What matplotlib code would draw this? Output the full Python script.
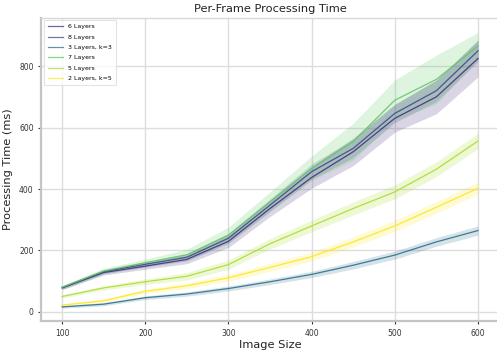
import matplotlib
matplotlib.use("Agg")
import matplotlib.pyplot as plt
import numpy as np

image_size = [100, 150, 200, 250, 300, 350, 400, 450, 500, 550, 600]

series_names = ["6 Layers", "8 Layers", "3 Layers, k=3", "7 Layers", "5 Layers", "2 Layers, k=5"]
series_colors = ["#46307e", "#3d4c8a", "#2e6f8e", "#5ec962", "#addc30", "#fde725"]

# mean processing time (ms)
t_6_layers = [78, 128, 149, 171, 230, 337, 438, 522, 631, 701, 826]
t_8_layers = [79, 131, 155, 178, 240, 348, 457, 533, 647, 721, 851]
t_3_layers_k3 = [16, 25, 46, 58, 76, 98, 122, 152, 185, 228, 265]
t_7_layers = [80, 133, 160, 186, 250, 359, 468, 555, 690, 758, 867]
t_5_layers = [50, 78, 98, 116, 154, 222, 280, 337, 391, 465, 557]
t_2_layers_k5 = [22, 36, 67, 85, 111, 145, 180, 228, 280, 341, 403]

# half-width of the shaded interval (ms)
hw_6_layers = [6, 8, 10, 14, 20, 26, 35, 45, 45, 55, 60]
hw_8_layers = [5, 7, 9, 12, 16, 20, 25, 30, 30, 35, 35]
hw_3_layers_k3 = [4, 5, 6, 7, 8, 9, 10, 12, 13, 14, 15]
hw_7_layers = [6, 9, 12, 18, 26, 32, 40, 60, 66, 79, 44]
hw_5_layers = [5, 7, 9, 12, 15, 17, 19, 21, 23, 24, 25]
hw_2_layers_k5 = [4, 6, 7, 9, 11, 13, 14, 16, 18, 19, 20]

means = [t_6_layers, t_8_layers, t_3_layers_k3, t_7_layers, t_5_layers, t_2_layers_k5]
halfwidths = [hw_6_layers, hw_8_layers, hw_3_layers_k3, hw_7_layers, hw_5_layers, hw_2_layers_k5]

fig = plt.figure(figsize=(4.97, 3.52), dpi=100)
ax = fig.add_axes([0.0831, 0.088, 0.9205, 0.8617])

x = np.array(image_size)
for name, color, m, hw in zip(series_names, series_colors, means, halfwidths):
    m = np.array(m, dtype=float)
    hw = np.array(hw, dtype=float)
    ax.fill_between(x, m - hw, m + hw, color=color, alpha=0.2, linewidth=0)
    ax.plot(x, m, color=color, linewidth=0.9, alpha=0.9, label=name)

ax.set_xlim(75, 625)
ax.set_ylim(-30, 959)
ax.set_xticks([100, 200, 300, 400, 500, 600])
ax.set_yticks([0, 200, 400, 600, 800])

ax.grid(True, color="#dddddd", linewidth=1.0)
ax.set_axisbelow(True)
for side in ["left", "bottom"]:
    ax.spines[side].set_color("#c4c4c4")
    ax.spines[side].set_linewidth(1.6)
for side in ["top", "right"]:
    ax.spines[side].set_color("#d8d8d8")
    ax.spines[side].set_linewidth(1.0)

ax.tick_params(axis="both", labelsize=5.5, labelcolor="#333333", color="#333333",
               length=2.5, width=0.8, pad=3)

ax.set_title("Per-Frame Processing Time", fontsize=8.2, color="#222222", pad=4)
ax.set_xlabel("Image Size", fontsize=8.2, color="#222222", labelpad=2)
ax.set_ylabel("Processing Time (ms)", fontsize=8.2, color="#222222", labelpad=4)

leg = ax.legend(loc="upper left", fontsize=4.5, frameon=True, handlelength=2.5,
                borderpad=0.6, labelspacing=0.8, borderaxespad=0.4, handletextpad=0.8)
leg.get_frame().set_edgecolor("#dddddd")
leg.get_frame().set_linewidth(0.8)
for line in leg.get_lines():
    line.set_alpha(0.75)

fig.savefig("out.png", dpi=100)
